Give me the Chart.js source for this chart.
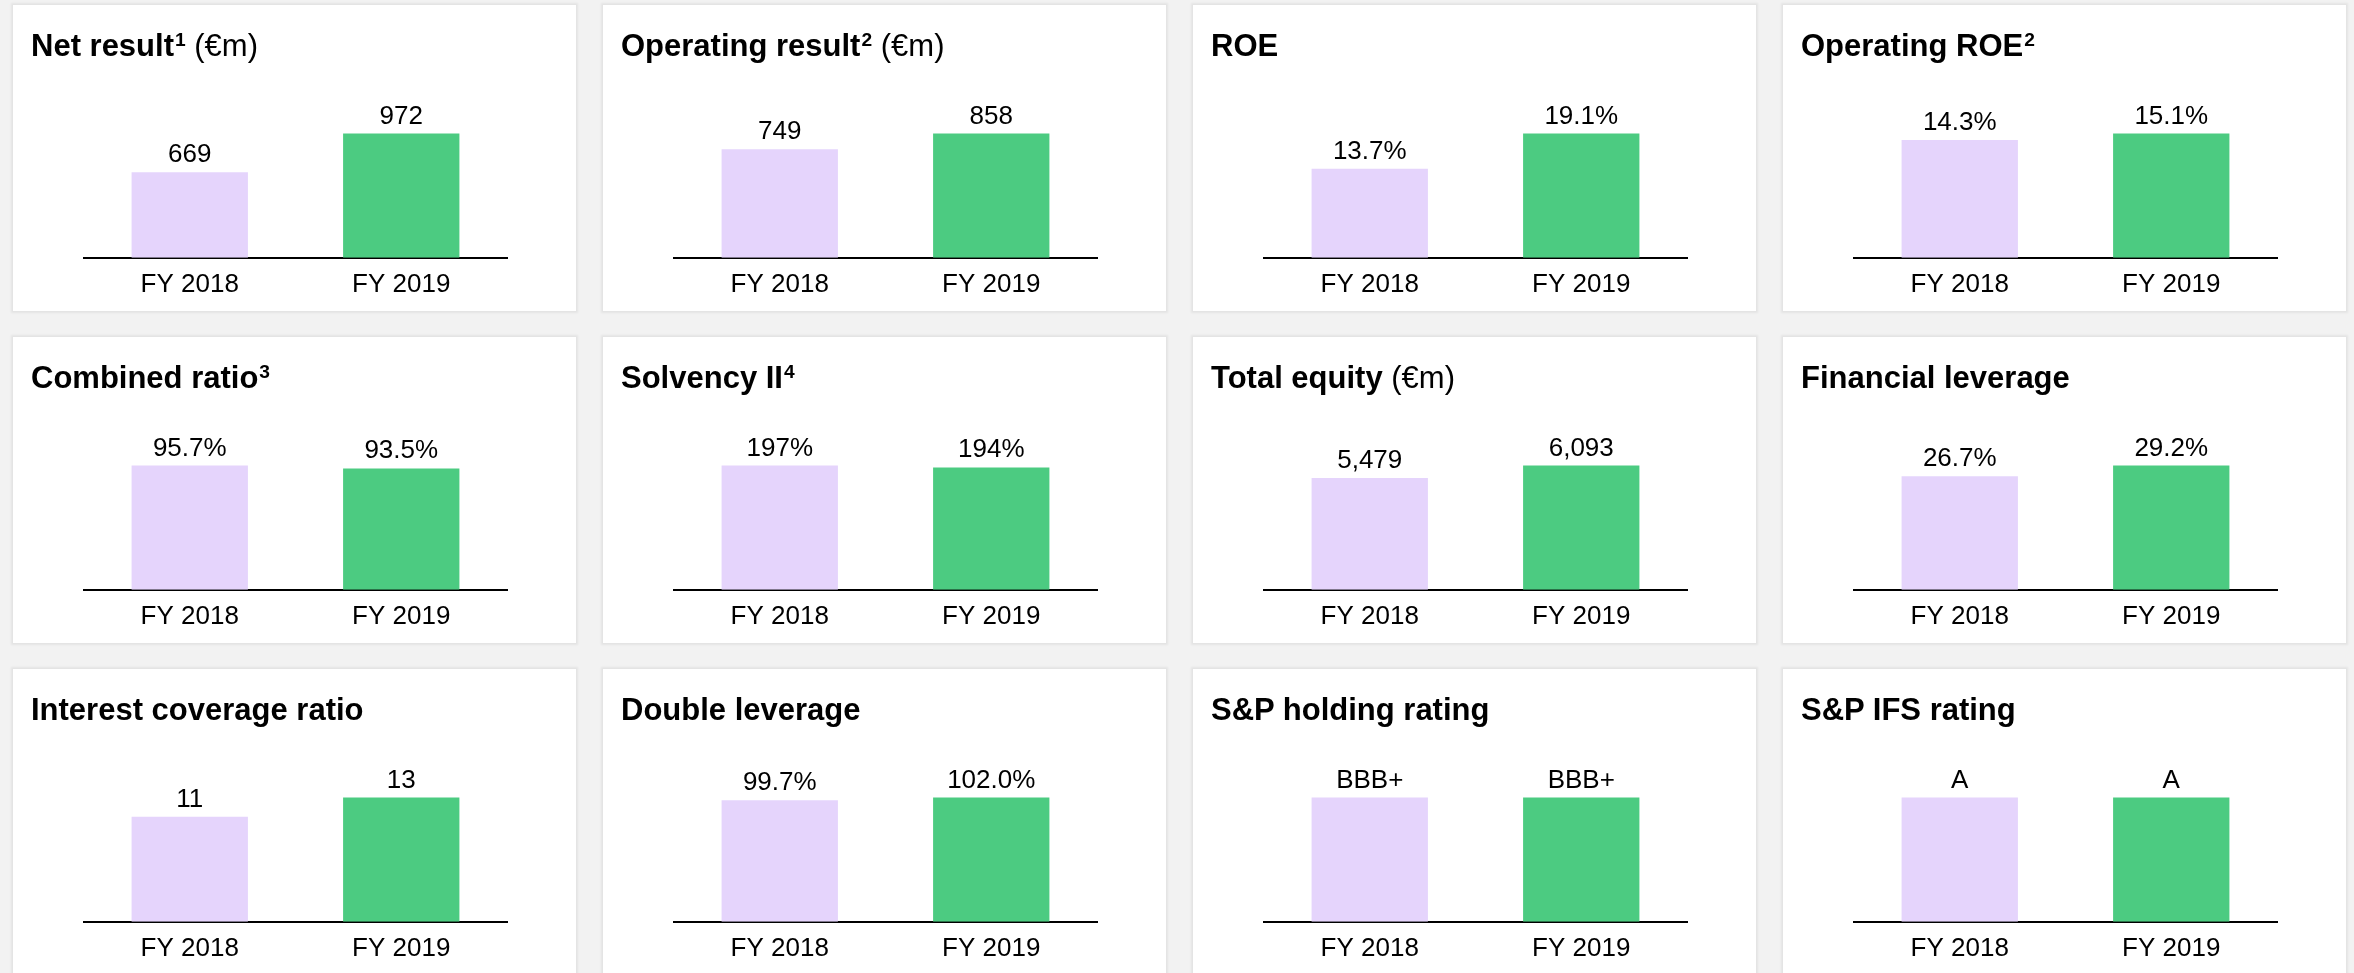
<!DOCTYPE html>
<html>
<head>
<meta charset="utf-8">
<title>FY 2019 key figures</title>
<script src="https://cdn.jsdelivr.net/npm/chart.js@4.4.0/dist/chart.umd.min.js"></script>
<style>
    html, body {
        margin: 0;
        padding: 0;
        background: #f2f2f2;
        font-family: "Liberation Sans", Arial, sans-serif;
        overflow: hidden;
    }
    .grid {
        display: grid;
        grid-template-columns: repeat(4, 563px);
        grid-auto-rows: 306px;
        column-gap: 27px;
        row-gap: 26px;
        padding: 5px 0 0 13px;
    }
    .panel {
        position: relative;
        background: #fff;
        box-shadow: 0 0 2px 2px rgba(0, 0, 0, 0.06);
    }
    .panel-title {
        position: absolute;
        left: 18px;
        top: 25px;
        font-size: 31px;
        line-height: 31px;
        color: #000;
        white-space: nowrap;
    }
    .panel-title b sup {
        font-size: 0.62em;
        vertical-align: 0;
        position: relative;
        top: -0.5em;
        margin-left: 1px;
    }
    .chart-box {
        position: absolute;
        left: 0;
        top: 0;
        width: 563px;
        height: 306px;
    }
</style>
</head>
<body>
<div class="grid" id="grid"></div>

<script>
// Categories shared by every panel
const categories = ['FY 2018', 'FY 2019'];

// Values
const netResult = [669, 972];
const operatingResult = [749, 858];
const roe = [13.7, 19.1];
const operatingRoe = [14.3, 15.1];
const combinedRatio = [95.7, 93.5];
const solvency = [197, 194];
const totalEquity = [5479, 6093];
const financialLeverage = [26.7, 29.2];
const interestCoverage = [11, 13];
const doubleLeverage = [99.7, 102.0];
const holdingRating = ['BBB+', 'BBB+'];
const ifsRating = ['A', 'A'];
const ratingBars = [1, 1];

// Panel titles: bold text, footnote mark, unit
const titleText = ['Net result', 'Operating result', 'ROE', 'Operating ROE',
    'Combined ratio', 'Solvency II', 'Total equity', 'Financial leverage',
    'Interest coverage ratio', 'Double leverage', 'S&P holding rating', 'S&P IFS rating'];
const titleNote = ['1', '2', '', '2', '3', '4', '', '', '', '', '', ''];
const titleUnit = ['(€m)', '(€m)', '', '', '', '', '(€m)', '', '', '', '', ''];

const barColors = ['#e5d4fc', '#4ccb81'];

const fmt = {
    int: v => String(v),
    pct0: v => v.toFixed(0) + '%',
    pct1: v => v.toFixed(1) + '%',
    thousands: v => v.toLocaleString('en-US')
};

const panels = [
    { values: netResult, text: netResult.map(fmt.int) },
    { values: operatingResult, text: operatingResult.map(fmt.int) },
    { values: roe, text: roe.map(fmt.pct1) },
    { values: operatingRoe, text: operatingRoe.map(fmt.pct1) },
    { values: combinedRatio, text: combinedRatio.map(fmt.pct1) },
    { values: solvency, text: solvency.map(fmt.pct0) },
    { values: totalEquity, text: totalEquity.map(fmt.thousands) },
    { values: financialLeverage, text: financialLeverage.map(fmt.pct1) },
    { values: interestCoverage, text: interestCoverage.map(fmt.int) },
    { values: doubleLeverage, text: doubleLeverage.map(fmt.pct1) },
    { values: ratingBars, text: holdingRating },
    { values: ratingBars, text: ifsRating }
];

// Value printed above each bar
const valueLabels = {
    id: 'valueLabels',
    afterDatasetsDraw(chart) {
        const ctx = chart.ctx;
        const ds = chart.data.datasets[0];
        const meta = chart.getDatasetMeta(0);
        ctx.save();
        ctx.font = '26px "Liberation Sans", Arial, sans-serif';
        ctx.fillStyle = '#000';
        ctx.textAlign = 'center';
        ctx.textBaseline = 'alphabetic';
        meta.data.forEach((bar, i) => {
            ctx.fillText(ds.valueText[i], bar.x, bar.y - 10);
        });
        ctx.restore();
    }
};

const HEADROOM = 1.31;

const grid = document.getElementById('grid');

panels.forEach((p, idx) => {
    const panel = document.createElement('div');
    panel.className = 'panel';

    const box = document.createElement('div');
    box.className = 'chart-box';
    const canvas = document.createElement('canvas');
    box.appendChild(canvas);
    panel.appendChild(box);

    const title = document.createElement('div');
    title.className = 'panel-title';
    const b = document.createElement('b');
    b.textContent = titleText[idx];
    if (titleNote[idx]) {
        const sup = document.createElement('sup');
        sup.textContent = titleNote[idx];
        b.appendChild(sup);
    }
    title.appendChild(b);
    if (titleUnit[idx]) {
        title.appendChild(document.createTextNode(' ' + titleUnit[idx]));
    }
    panel.appendChild(title);
    grid.appendChild(panel);

    new Chart(canvas, {
        type: 'bar',
        data: {
            labels: categories,
            datasets: [{
                data: p.values,
                valueText: p.text,
                backgroundColor: barColors,
                borderWidth: 0,
                categoryPercentage: 1,
                barPercentage: 0.55
            }]
        },
        options: {
            responsive: true,
            maintainAspectRatio: false,
            animation: false,
            layout: {
                padding: { left: 71, right: 69, top: 90, bottom: 0 }
            },
            plugins: {
                legend: { display: false },
                tooltip: { enabled: false }
            },
            scales: {
                y: {
                    display: false,
                    min: 0,
                    max: Math.max(...p.values) * HEADROOM
                },
                x: {
                    grid: { display: false, drawTicks: false },
                    border: { display: true, color: '#000', width: 2 },
                    ticks: {
                        color: '#000',
                        padding: 11,
                        font: { family: '"Liberation Sans", Arial, sans-serif', size: 26 }
                    }
                }
            }
        },
        plugins: [valueLabels]
    });
});
</script>
</body>
</html>
